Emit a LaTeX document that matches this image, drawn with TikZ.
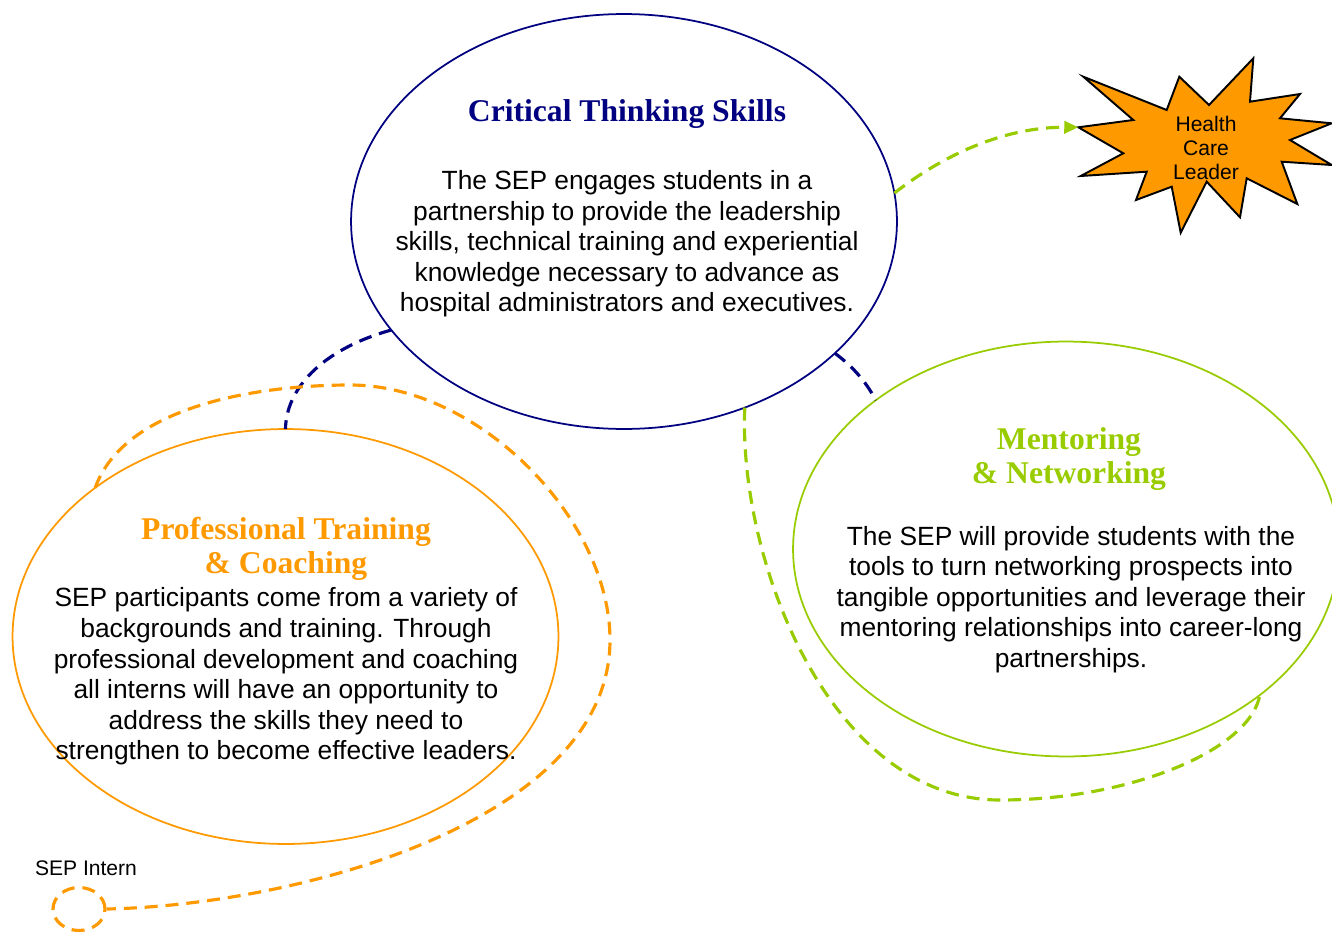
\documentclass[tikz,border=0pt]{standalone}
\usepackage{fontspec}
\setmainfont{Liberation Sans}
\newfontfamily\headfont{Liberation Serif}
\usetikzlibrary{shapes.geometric, arrows.meta}

\definecolor{sepnavy}{RGB}{0,0,128}
\definecolor{seporange}{RGB}{255,153,0}
\definecolor{sepgreen}{RGB}{153,204,0}

\begin{document}
\begin{tikzpicture}
        [x=0.02cm, y=-0.02cm,
        bubble/.style={ellipse, draw, line width=1pt, inner sep=0pt, outer sep=0pt,
          minimum width=10.92cm, minimum height=8.3cm},
        heading/.style={font=\headfont\bfseries\fontsize{18}{19.6}\selectfont, align=center, inner sep=0pt},
        body/.style={font=\fontsize{15}{17.4}\selectfont, align=center, inner sep=0pt},
        small/.style={font=\fontsize{12}{13.6}\selectfont, align=center, inner sep=0pt},
        link/.style={line width=1.8pt, dash pattern=on 7.4pt off 4.5pt},
        arr/.style={-{Triangle[length=8pt,width=7pt]}}]
        \useasboundingbox (0,0) rectangle (1332,933);

        % the three bubbles
        \node (ct) at (624,221.5) [bubble, draw=sepnavy] {};
        \node (pt) at (285.5,636.5) [bubble, draw=seporange] {};
        \node (mn) at (1066,549) [bubble, draw=sepgreen] {};
        \node (intern) at (79,909) [ellipse, link, draw=seporange, inner sep=0pt,
          minimum width=1.04cm, minimum height=0.86cm] {};

        % the star
        \coordinate (hclc) at (1206,145);
        \coordinate (hcltip) at (1078.3,127.3);
        \draw[shift={(hclc)}, fill=seporange, draw=black, line width=1.1pt, line join=miter]
          (-122.7,-68.3) -- (-39.3,-35) -- (-26.7,-68.3) -- (3,-40) -- (47.3,-86.7)
          -- (44,-43.3) -- (94,-51) -- (74,-26.7) -- (125.7,-21.7) -- (84,-5)
          -- (125.7,20) -- (75.7,16.7) -- (91.3,59) -- (40.7,33.3) -- (34,72.3)
          -- (0.7,36.7) -- (-25.3,87.7) -- (-34.3,41.7) -- (-70,55) -- (-59.3,26.7)
          -- (-125.3,31) -- (-82.7,8.3) -- (-127.7,-17.7) -- (-72.7,-25) -- cycle;
        \node (hcl) at (1206,148) [small] {Health\\Care\\Leader};

        % dashed links
        \draw[link, sepnavy] (ct.205) .. controls (320,350) and (286,390) .. (pt.north);
        \draw[link, sepnavy] (ct.328) .. controls (855,368) and (868,385) .. (mn.142);
        \draw[link, sepgreen] (ct.303.5) .. controls (738,560) and (830,800) .. (1000,800)
          .. controls (1130,800) and (1250,750) .. (mn.323);
        \draw[link, arr, sepgreen] (ct.6.6) .. controls (950,150) and (1010,127) .. (hcltip);
        \draw[link, seporange] (pt.142) .. controls (125,405) and (260,385) .. (350,385)
          .. controls (480,385) and (610,520) .. (610,640)
          .. controls (610,820) and (300,905) .. (intern.east);

        % texts
        \node (cttitle) at (627,114) [heading, text=sepnavy] {Critical Thinking Skills};
        \node (cttext) at (627,244) [body] {The SEP engages students in a\\
          partnership to provide the leadership\\
          skills, technical training and experiential\\
          knowledge necessary to advance as\\
          hospital administrators and executives.};
        \node (pttitle) at (286,549) [heading, text=seporange] {Professional Training\\\& Coaching};
        \node (pttext) at (286,676.5) [body] {SEP participants come from a variety of\\
          backgrounds and training. Through\\
          professional development and coaching\\
          all interns will have an opportunity to\\
          address the skills they need to\\
          strengthen to become effective leaders.};
        \node (mntitle) at (1069,459) [heading, text=sepgreen] {Mentoring\\\& Networking};
        \node (mntext) at (1071,599.5) [body] {The SEP will provide students with the\\
          tools to turn networking prospects into\\
          tangible opportunities and leverage their\\
          mentoring relationships into career-long\\
          partnerships.};
        \node (internlabel) at (86,868) [small] {SEP Intern};
\end{tikzpicture}
\end{document}
